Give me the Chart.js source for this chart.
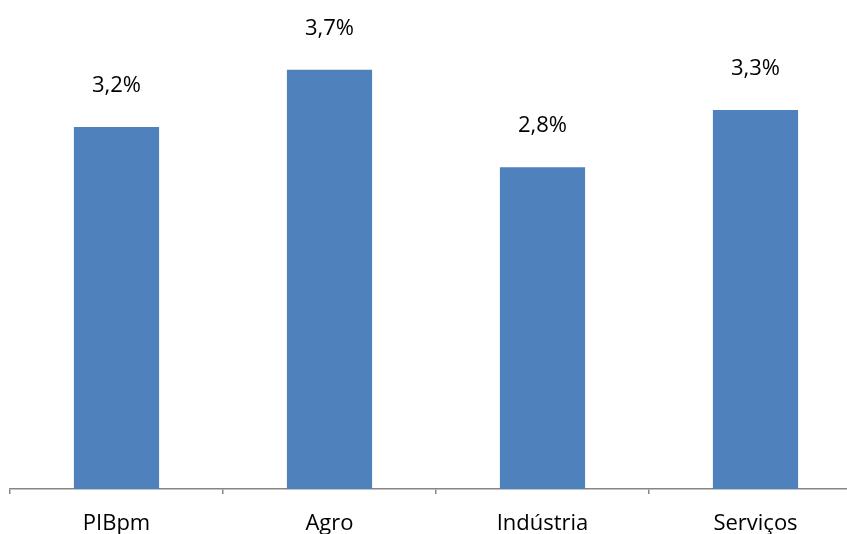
<!DOCTYPE html>
<html lang="pt">
<head>
    <meta charset="UTF-8" />
    <title>Crescimento</title>
    <script src="https://cdn.jsdelivr.net/npm/chart.js"></script>
    <style>
        html, body {
            margin: 0;
            padding: 0;
            background: #fff;
            overflow: hidden;
        }

        .wrap {
            width: 870px;
            height: 534px;
        }
    </style>
</head>
<body>
    <div class="wrap">
        <canvas id="growthChart" width="870" height="534"></canvas>
    </div>

    <script>
        const categories = ['PIBpm', 'Agro', 'Indústria', 'Serviços'];
        const growth = [3.16, 3.66, 2.81, 3.31];

        // labels above each bar, e.g. "3,2%"
        const barLabels = {
            id: 'barLabels',
            afterDatasetsDraw(chart) {
                const c = chart.ctx;
                const meta = chart.getDatasetMeta(0);
                c.save();
                c.font = '22px "Open Sans"';
                c.fillStyle = '#000';
                c.textAlign = 'center';
                c.textBaseline = 'middle';
                meta.data.forEach((bar, i) => {
                    const txt = growth[i].toFixed(1).replace('.', ',') + '%';
                    c.fillText(txt, bar.x, bar.y - 41);
                });
                c.restore();
            }
        };

        const ctx = document.getElementById('growthChart').getContext('2d');

        new Chart(ctx, {
            type: 'bar',
            data: {
                labels: categories,
                datasets: [{
                    data: growth,
                    backgroundColor: '#4F81BD',
                    barPercentage: 0.8,
                    categoryPercentage: 0.5
                }]
            },
            options: {
                responsive: false,
                animation: false,
                layout: {
                    padding: { top: 8, left: 10, right: 8, bottom: 0 }
                },
                plugins: {
                    legend: { display: false },
                    tooltip: { enabled: false }
                },
                scales: {
                    y: {
                        display: false,
                        min: 0,
                        max: 4.2
                    },
                    x: {
                        afterFit: (scale) => { scale.height = 45; },
                        border: {
                            color: '#868686',
                            width: 1.5
                        },
                        grid: {
                            drawOnChartArea: false,
                            drawTicks: true,
                            tickLength: 5,
                            color: '#868686',
                            lineWidth: 1.5
                        },
                        ticks: {
                            color: '#000',
                            padding: 17,
                            font: {
                                family: 'Open Sans',
                                size: 22
                            }
                        }
                    }
                }
            },
            plugins: [barLabels]
        });
    </script>
</body>
</html>
